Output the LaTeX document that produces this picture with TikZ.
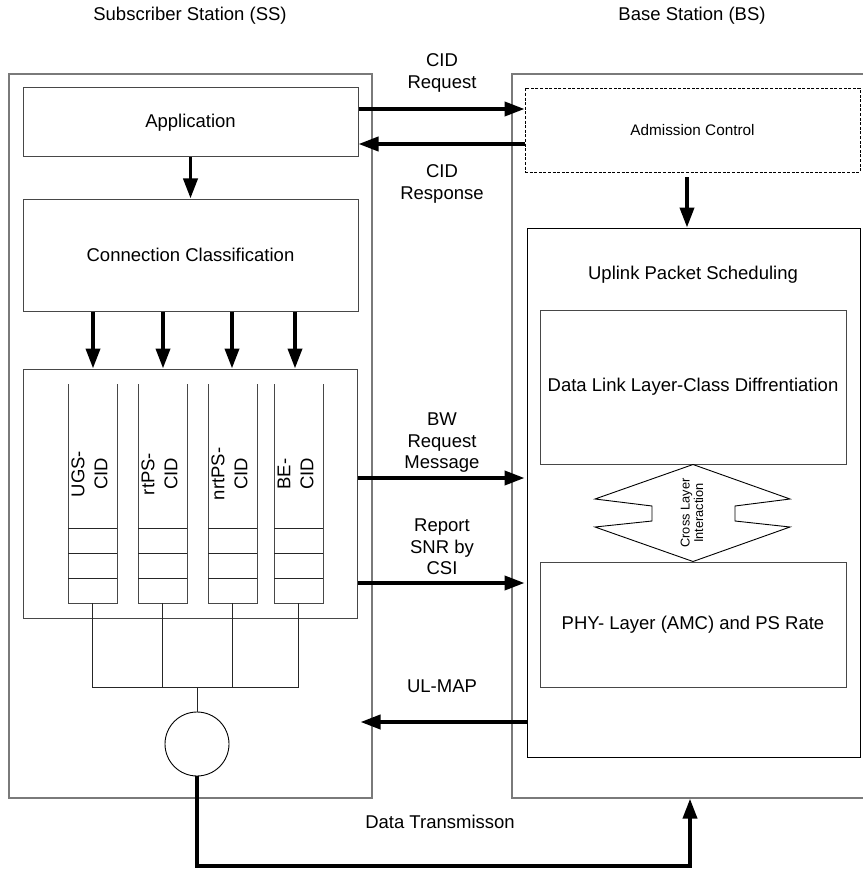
\documentclass[tikz,border=0pt]{standalone}
\usepackage{fontspec}
\setmainfont{Liberation Sans}
\usetikzlibrary{arrows.meta,calc}
\begin{document}
\begin{tikzpicture}[x=1pt,y=-1pt,
  box/.style={draw=black!72, line width=1pt, inner sep=0pt, font=\fontsize{18.5}{21.5}\selectfont},
  outerbox/.style={draw=black!52, line width=1.3pt, inner sep=0pt},
  big/.style={font=\fontsize{18.5}{21.5}\selectfont, align=center, inner sep=0pt},
  fat/.style={line width=3.8pt, -{Triangle[length=20pt,width=14pt]}},
  thinline/.style={line width=0.9pt, draw=black!85}
]
\useasboundingbox (0,0) rectangle (862,896);
% outer stations
\node[outerbox, minimum width=363pt, minimum height=724pt] (ss) at (190.5,436) {};
\node[outerbox, minimum width=354pt, minimum height=724pt] (bs) at (689,436) {};
\node[big] (sst) at (190,16) {Subscriber Station (SS)};
\node[big] (bst) at (692,16) {Base Station (BS)};
% SS boxes
\node[box, minimum width=335pt, minimum height=69pt] (app) at (190.5,122.5) {Application};
\node[box, minimum width=335pt, minimum height=112pt] (conn) at (190.5,255) {Connection Classification};
\node[box, minimum width=334pt, minimum height=249pt] (qbox) at (190,493.5) {};
% queues
\foreach \x/\n/\lab in {68/q1/{UGS-\\CID}, 138/q2/{rtPS-\\CID}, 208/q3/{nrtPS-\\CID}, 274/q4/{BE-\\CID}}{
  \draw[draw=black!72, line width=1pt] (\x,384) -- (\x,603) -- (\x+49,603) -- (\x+49,384);
  \foreach \yy in {528,553,578}{\draw[draw=black!85, line width=0.9pt] (\x,\yy) -- (\x+49,\yy);}
  \coordinate (\n) at (\x+24.5,603);
  \node[big, rotate=90, font=\fontsize{18.5}{23}\selectfont] (\n lab) at (\x+21.5,474) {\lab};
}
% BS boxes
\node[draw=black, dashed, dash pattern=on 3pt off 1.6pt, line width=0.9pt, inner sep=0pt,
  minimum width=335pt, minimum height=84pt, font=\fontsize{15.3}{18}\selectfont] (adm) at (692.5,130) {Admission Control};
\node[draw=black, line width=0.9pt, minimum width=333pt, minimum height=529pt] (ups) at (693.5,492.5) {};
\node[big] (upst) at (693,275) {Uplink Packet Scheduling};
\node[box, minimum width=306pt, minimum height=154pt] (dll) at (693,387) {Data Link Layer-Class Diffrentiation};
\node[box, minimum width=306pt, minimum height=125pt] (phy) at (693,624.5) {PHY- Layer (AMC) and PS Rate};
% cross layer interaction shape
\draw[line width=0.9pt, line join=miter] (dll.south) -- (790,499) -- (735,506) -- (735,521) -- (790,527) -- (phy.north)
  -- (595,527) -- (652,521) -- (652,506) -- (595,499) -- cycle;
\node[align=center, inner sep=0pt, rotate=90, font=\fontsize{12.8}{13.5}\selectfont] (cli) at (692,513) {Cross Layer\\Interaction};
% vertical arrows
\draw[fat] (app.south) -- (conn.north);
\foreach \xx in {93,163,232,295}{\draw[fat] (conn.south -| \xx,0) -- (qbox.north -| \xx,0);}
\coordinate (admarr) at ([xshift=-5.5pt,yshift=-5pt]adm.south);
\draw[fat] (admarr) -- (admarr |- ups.north);
% horizontal arrows
\coordinate (yreq) at (0,109);
\coordinate (yres) at (0,144);
\coordinate (ybw) at (0,478);
\coordinate (yrep) at (0,583);
\coordinate (yul) at (0,722);
\draw[fat] (app.east |- yreq) -- (adm.west |- yreq);
\draw[fat] (adm.west |- yres) -- (app.east |- yres);
\draw[fat] (qbox.east |- ybw) -- ([xshift=-2pt]ups.west |- ybw);
\draw[fat] (qbox.east |- yrep) -- ([xshift=-2pt]ups.west |- yrep);
\draw[fat] (ups.west |- yul) -- ([xshift=3pt]qbox.east |- yul);
\node[big] (lreq) at (442,73) {CID\\Request};
\node[big] (lres) at (442,184) {CID\\Response};
\node[big] (lbw) at (442,443) {BW\\Request\\Message};
\node[big] (lrep) at (442,547) {Report\\SNR by\\CSI};
\node[big] (lul) at (442,686) {UL-MAP};
% bus and multiplexer
\node[draw=black, line width=0.9pt, circle, minimum size=64pt, inner sep=0pt] (circ) at (197,744) {};
\coordinate (bus) at (197,687);
\draw[thinline] (q1) |- (q4 |- bus) -- (q4);
\draw[thinline] (q2) -- (q2 |- bus);
\draw[thinline] (q3) -- (q3 |- bus);
\draw[thinline] (bus) -- (circ.north);
% data transmission
\coordinate (dt) at (690,866);
\draw[fat] (circ.south) |- (dt) -- (dt |- bs.south);
\node[big] (ldt) at (440,822) {Data Transmisson};
\end{tikzpicture}
\end{document}
